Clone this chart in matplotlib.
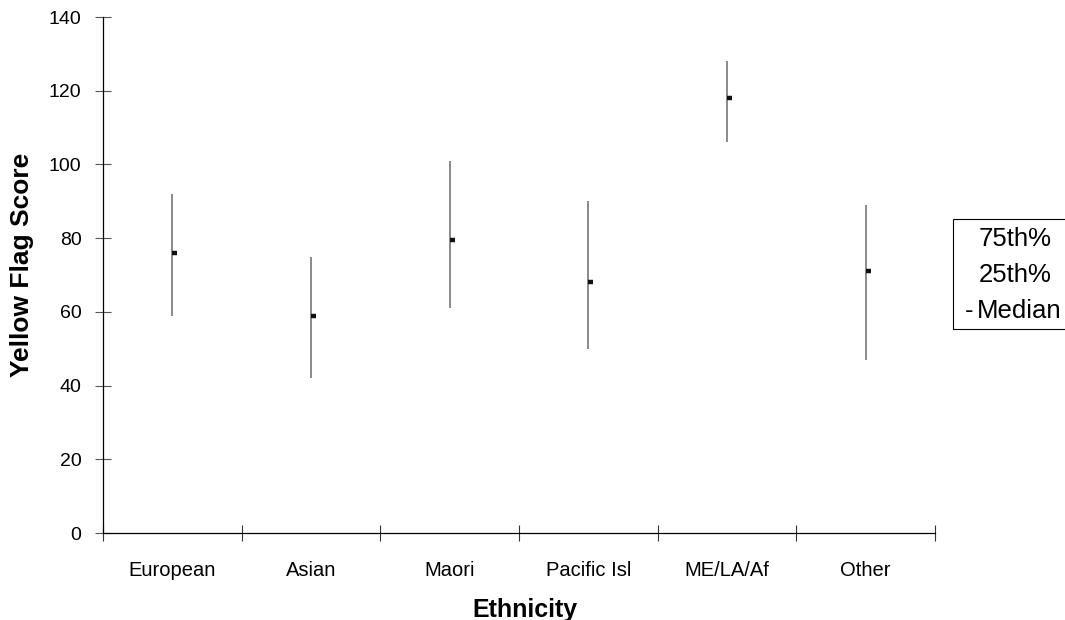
import matplotlib
matplotlib.use("Agg")
import matplotlib.pyplot as plt
from matplotlib.patches import Rectangle

categories = ["European", "Asian", "Maori", "Pacific Isl", "ME/LA/Af", "Other"]
p25 = [59, 42, 61, 50, 106, 47]
median = [76, 59, 79.5, 68, 118, 71]
p75 = [92, 75, 101, 90, 128, 89]
yticks = [0, 20, 40, 60, 80, 100, 120, 140]

plt.rcParams['font.family'] = ['Liberation Sans', 'DejaVu Sans']

W, H = 1065, 620
fig = plt.figure(figsize=(W / 100, H / 100), dpi=100)
ax = fig.add_axes([103 / W, (H - 533) / H, 832 / W, 516 / H])

x = list(range(len(categories)))
ax.vlines(x, p25, p75, color="#777777", lw=1.2)
ax.errorbar([xi + 0.018 for xi in x], median, xerr=0.018, fmt="none",
            ecolor="#111111", elinewidth=3.2, capsize=0)

ax.set_xlim(-0.5, len(categories) - 0.5)
ax.set_ylim(0, 140)
ax.set_yticks(yticks)
ax.set_yticklabels([str(t) for t in yticks], fontsize=14)
ax.set_xticks([i - 0.5 for i in range(len(categories) + 1)])
ax.set_xticklabels([])
ax.set_xticks(x, minor=True)
ax.set_xticklabels(categories, minor=True, fontsize=14.5)
ax.tick_params(axis="x", which="minor", length=0, pad=20)
ax.tick_params(axis="x", which="major", direction="inout", length=11, width=0.8,
               color="#333333")
ax.tick_params(axis="y", direction="inout", length=11, width=0.8, pad=10,
               color="#555555")
for s in ["top", "right"]:
    ax.spines[s].set_visible(False)
for s in ["left", "bottom"]:
    ax.spines[s].set_linewidth(0.9)

fig.text(525 / W, 1 - 617 / H, "Ethnicity", ha="center", va="baseline",
         fontsize=18, fontweight="bold")
fig.text(22 / W, 1 - 265 / H, "Yellow Flag Score", ha="center", va="center",
         rotation=90, fontsize=19, fontweight="bold")

# legend box (cut off at right edge as in reference)
fig.patches.append(Rectangle((953 / W, (H - 329) / H), 130 / W, 110 / H,
                             transform=fig.transFigure, fill=False,
                             edgecolor="black", lw=0.8))
fig.text(979 / W, 1 - 246 / H, "75th%", ha="left", va="baseline", fontsize=18.5)
fig.text(979 / W, 1 - 282 / H, "25th%", ha="left", va="baseline", fontsize=18.5)
fig.text(965 / W, 1 - 318 / H, "-", ha="left", va="baseline", fontsize=18.5)
fig.text(977 / W, 1 - 318 / H, "Median", ha="left", va="baseline", fontsize=18.5)

fig.savefig("out.png", dpi=100)
